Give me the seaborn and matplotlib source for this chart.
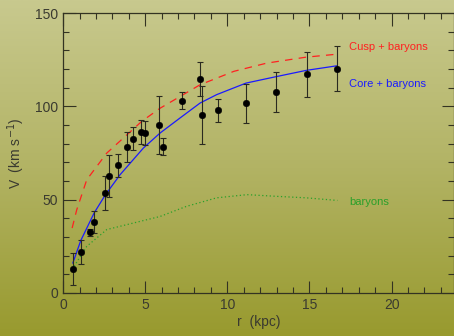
import numpy as np
import pandas as pd
import seaborn as sns
import matplotlib.pyplot as plt
from matplotlib.colors import LinearSegmentedColormap
from matplotlib.ticker import MultipleLocator

# Observed rotation curve (r in kpc, V in km/s, error in km/s)
r_obs = [0.59, 1.08, 1.64, 1.89, 2.58, 2.78, 3.37, 3.89, 4.28, 4.77, 5.01,
         5.86, 6.10, 7.22, 8.34, 8.44, 9.43, 11.14, 12.96, 14.83, 16.69]
v_obs = [12.9, 22.1, 32.5, 38.2, 53.6, 62.9, 68.4, 78.4, 82.7, 86.2, 85.7,
         90.0, 78.4, 103.0, 114.6, 95.5, 97.9, 101.6, 107.7, 117.1, 120.2]
v_err = [8.6, 6.3, 1.7, 6.0, 9.2, 11.2, 6.2, 8.0, 6.3, 6.5, 6.6,
         15.6, 4.5, 4.6, 9.2, 15.4, 6.1, 10.5, 10.7, 11.8, 12.0]

# Model curves
r_cusp = [0.55, 0.83, 1.44, 2.66, 4.79, 5.9, 8.34, 10.4, 12.4, 14.8, 16.7]
v_cusp = [34.8, 44.6, 60.7, 75.0, 92.0, 99.0, 111.6, 118.8, 123.2, 126.4, 128.0]

r_core = [0.59, 1.08, 1.89, 2.58, 3.47, 4.89, 5.9, 7.12, 8.34, 9.35, 11.14, 13.0, 14.8, 16.7]
v_core = [16.0, 28.2, 42.9, 52.7, 63.4, 77.7, 85.7, 93.8, 101.8, 106.3, 112.5, 116.0, 119.3, 121.8]

r_bar = [0.67, 1.44, 2.66, 4.28, 5.9, 7.5, 9.35, 11.2, 13.0, 14.8, 16.7]
v_bar = [14.3, 25.0, 34.0, 37.5, 41.0, 46.4, 51.0, 52.7, 51.8, 51.0, 49.6]

sns.set_style("ticks")
plt.rcParams['font.family'] = ['Liberation Sans', 'DejaVu Sans']

fig = plt.figure(figsize=(4.54, 3.36), dpi=100)

# gradient background, light khaki at the top to olive at the bottom
bg = fig.add_axes([0, 0, 1, 1], zorder=-1)
cmap = LinearSegmentedColormap.from_list("bg", ["#c8c98e", "#b2b364", "#989a2e"])
bg.imshow(np.linspace(0, 1, 256).reshape(-1, 1), aspect="auto", cmap=cmap,
          extent=[0, 1, 0, 1])
bg.axis("off")

ax = fig.add_axes([0.139, 0.128, 0.861, 0.833])
ax.set_facecolor("none")

sns.lineplot(x=r_cusp, y=v_cusp, ax=ax, color="#ff2020", lw=0.9,
             linestyle=(0, (6, 5)), estimator=None, sort=False)
sns.lineplot(x=r_core, y=v_core, ax=ax, color="#1a1aff", lw=0.9,
             estimator=None, sort=False)
sns.lineplot(x=r_bar, y=v_bar, ax=ax, color="#2aa02a", lw=0.9,
             linestyle=(0, (1, 2)), estimator=None, sort=False)

ax.errorbar(r_obs, v_obs, yerr=v_err, fmt="none", ecolor="#2a2a20",
            elinewidth=0.8, capsize=2.5, capthick=0.8)
sns.scatterplot(x=r_obs, y=v_obs, ax=ax, color="black", s=22,
                edgecolor="black", zorder=5)

ax.text(17.4, 131.8, "Cusp + baryons", color="#ff2020", fontsize=8, va="center")
ax.text(17.4, 112.0, "Core + baryons", color="#1a1aff", fontsize=8, va="center")
ax.text(17.4, 48.8, "baryons", color="#2aa02a", fontsize=8, va="center")

ax.set_xlim(0, 23.8)
ax.set_ylim(0, 150)
ax.xaxis.set_major_locator(MultipleLocator(5))
ax.xaxis.set_minor_locator(MultipleLocator(1))
ax.yaxis.set_major_locator(MultipleLocator(50))
ax.yaxis.set_minor_locator(MultipleLocator(10))
ax.tick_params(which="both", direction="in", top=True, right=True,
               color="#333322", labelcolor="#3a3a30", labelsize=10, width=0.8)
ax.tick_params(which="major", length=9)
ax.tick_params(which="minor", length=4.5)
for s in ax.spines.values():
    s.set_color("#333322")
    s.set_linewidth(0.9)

ax.set_xlabel("r  (kpc)", fontsize=10, color="#3a3a30", labelpad=2)
ax.set_ylabel("V  (km s$^{-1}$)", fontsize=10, color="#3a3a30", labelpad=6)

fig.savefig("out.png", dpi=100)
